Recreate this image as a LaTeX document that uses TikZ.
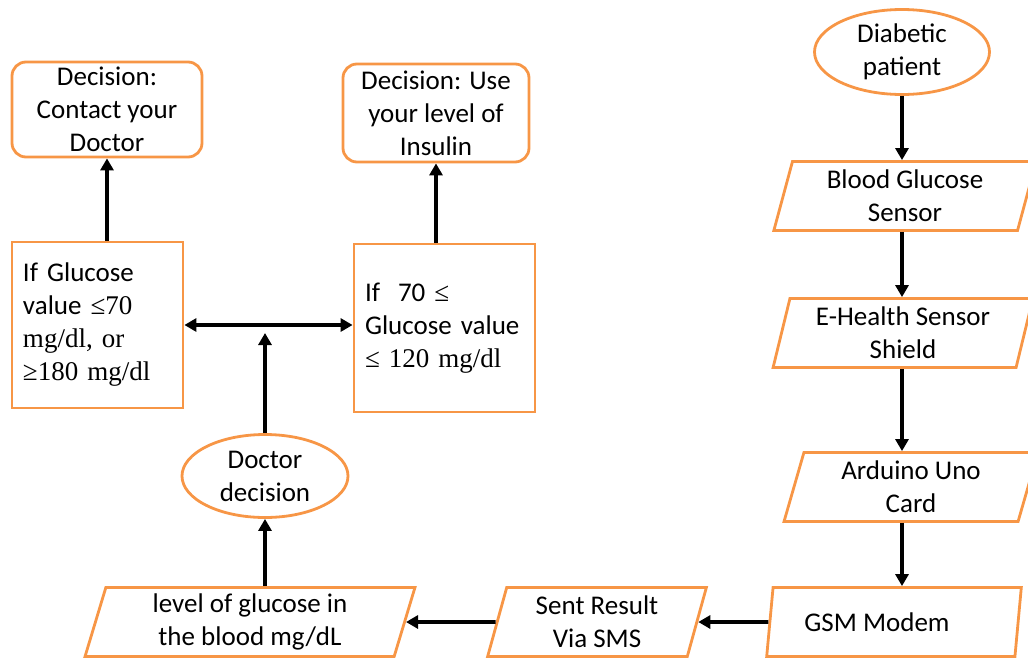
\documentclass[tikz,border=0pt]{standalone}
\usepackage{fontspec}
\setmainfont{Carlito}
\newfontfamily\tnr{Liberation Serif}
\usetikzlibrary{shapes.geometric,arrows.meta}
\definecolor{boxorange}{RGB}{247,150,70}

\begin{document}
\begin{tikzpicture}[x=0.5pt,y=-0.5pt,
  font=\fontsize{13.5}{16.5}\selectfont,
  every node/.style={draw=boxorange,line width=1.4pt,align=center,inner sep=0pt},
  oval/.style={ellipse},
  io/.style={trapezium,trapezium left angle=76,trapezium right angle=104,
    trapezium stretches=true,minimum height=34.5pt},
  decision/.style={rectangle,rounded corners=7pt},
  testbox/.style={rectangle,align=left,inner xsep=5.5pt},
  arr/.style={-{Triangle[length=6pt,width=6.5pt]},line width=1.8pt},
  dbl/.style={{Triangle[length=6pt,width=6.5pt]}-{Triangle[length=6pt,width=6.5pt]},line width=1.8pt}]
\useasboundingbox (0,0) rectangle (1028,659);
\clip (0,0) rectangle (1028,659);

\node[oval,minimum width=87.5pt,minimum height=42.5pt] (diab) at (902,52) {Diabetic\\patient};
\node[io,minimum width=132pt] (blood) at (905,196) {Blood Glucose\\Sensor};
\node[io,minimum width=130pt] (shield) at (903,333) {E-Health Sensor\\Shield};
\node[io,minimum width=128pt] (uno) at (911,487) {Arduino Uno\\Card};
\node[io,minimum width=127.5pt] (gsm) at (894,622) {GSM Modem\hspace*{17pt}};
\node[io,minimum width=110pt] (sms) at (597,622) {Sent Result\\Via SMS};
\node[io,minimum width=165pt] (level) at (250,622) {level of glucose in\\the blood mg/dL};
\node[oval,minimum width=83pt,minimum height=41.5pt] (doc) at (265,476) {Doctor\\decision};

\node[testbox,text width=74.5pt,minimum height=83pt] (low) at (97.5,325)
  {If Glucose\\value {\tnr ≤70}\\{\tnr mg/dl, or}\\{\tnr ≥180 mg/dl}};
\node[testbox,text width=79.5pt,minimum height=84pt] (high) at (444.5,328)
  {If\ \ 70 {\tnr ≤}\\Glucose value\\{\tnr ≤ 120 mg/dl}};

\node[decision,minimum width=95pt,minimum height=47.5pt] (contact) at (107,109.5)
  {Decision:\\Contact your\\Doctor};
\node[decision,minimum width=93pt,minimum height=49pt] (insulin) at (436,113)
  {Decision: Use\\your level of\\Insulin};

\draw[arr] (diab.south) -- (diab.south |- blood.north);
\draw[arr] (blood.south -| diab.south) -- (diab.south |- shield.north);
\draw[arr] (shield.south -| diab.south) -- (diab.south |- uno.north);
\draw[arr] (uno.south -| diab.south) -- (diab.south |- gsm.north);
\draw[arr] (gsm.west) -- (sms.east);
\draw[arr] (sms.west) -- (level.east);
\draw[arr] (doc.south |- level.north) -- (doc.south);
\coordinate (join) at (doc.north |- low.east);
\draw[arr] (doc.north) -- ([yshift=-4pt]join);
\draw[dbl] (low.east) -- (low.east -| high.west);
\draw[arr] (low.north -| contact.south) -- (contact.south);
\draw[arr] (high.north -| insulin.south) -- (insulin.south);
\end{tikzpicture}
\end{document}
